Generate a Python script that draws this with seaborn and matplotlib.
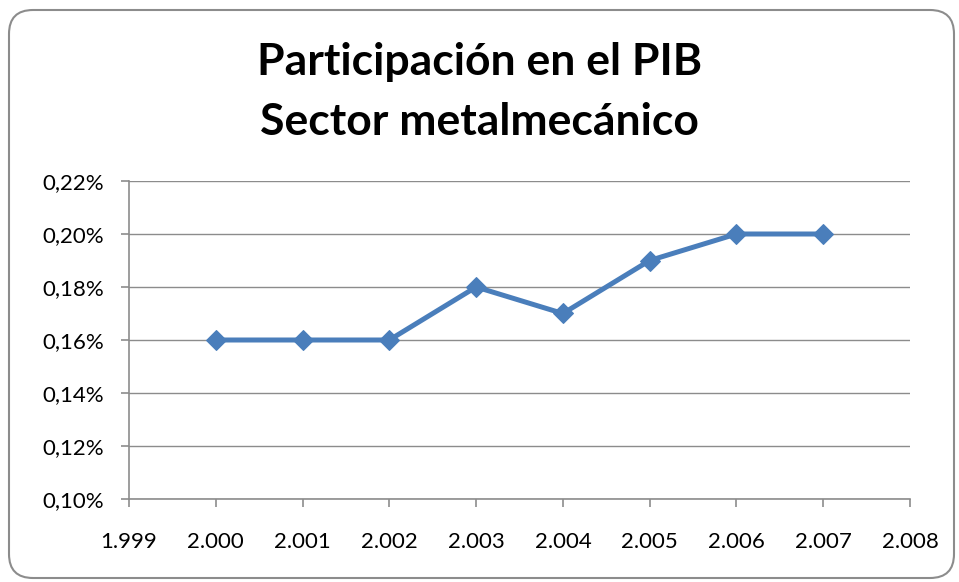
import matplotlib
matplotlib.use("Agg")
import matplotlib.pyplot as plt
import seaborn as sns
import pandas as pd
from matplotlib.patches import FancyBboxPatch
from matplotlib.ticker import FuncFormatter, MultipleLocator

years = [2000, 2001, 2002, 2003, 2004, 2005, 2006, 2007]
share = [0.16, 0.16, 0.16, 0.18, 0.17, 0.19, 0.20, 0.20]
title = "Participación en el PIB\nSector metalmecánico"

df = pd.DataFrame({"year": years, "share": share})

sns.set_theme(style="white")
plt.rcParams['font.family'] = ['Lato', 'DejaVu Sans']

fig = plt.figure(figsize=(9.59, 5.82), dpi=100)
fig.patch.set_facecolor("white")
frame = FancyBboxPatch((9/959, 4/582), 945/959, 568/582,
                       boxstyle="round,pad=0,rounding_size=0.025",
                       transform=fig.transFigure, facecolor="none",
                       edgecolor="#8c8c8c", linewidth=1.5, mutation_aspect=959/582,
                       zorder=-1)
fig.patches.append(frame)

ax = fig.add_axes([129/959, 1-499/582, (910-129)/959, (499-181)/582])
ax.set_facecolor("none")
sns.lineplot(data=df, x="year", y="share", ax=ax, color="#4A7EBB",
             linewidth=3.6, marker="D", markersize=10, markeredgecolor="#4A7EBB")

ax.set_xlim(1999, 2008)
ax.set_ylim(0.10, 0.22)
ax.xaxis.set_major_locator(MultipleLocator(1))
ax.yaxis.set_major_locator(MultipleLocator(0.02))
ax.xaxis.set_major_formatter(FuncFormatter(lambda v, p: f"{int(round(v))//1000}.{int(round(v))%1000:03d}"))
ax.yaxis.set_major_formatter(FuncFormatter(lambda v, p: f"{v:.2f}%".replace(".", ",")))
ax.set_xlabel("")
ax.set_ylabel("")
ax.grid(axis="y", color="#8c8c8c", linewidth=1)
ax.set_axisbelow(True)
for s in ["top", "right"]:
    ax.spines[s].set_visible(False)
for s in ["left", "bottom"]:
    ax.spines[s].set_color("#8c8c8c")
    ax.spines[s].set_linewidth(1.2)
ax.tick_params(axis="both", which="major", length=6, width=1.2, color="#8c8c8c",
               labelsize=16, labelcolor="black", direction="out",
               left=True, bottom=True)
ax.tick_params(axis="y", pad=12)
ax.tick_params(axis="x", pad=18)

fig.text(0.5, 1-92/582, title, ha="center", va="center",
         fontsize=32, fontweight="bold", linespacing=1.6, color="black")

fig.savefig("out.png", dpi=100)
